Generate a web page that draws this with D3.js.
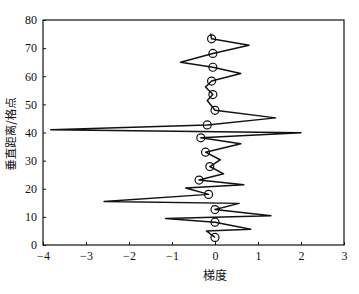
<!DOCTYPE html>
<html>
<head>
<meta charset="utf-8">
<script src="https://cdn.jsdelivr.net/npm/d3@7"></script>
<style>
  html, body { margin: 0; padding: 0; background: #fff; }
  svg { display: block; }
  .tick text { font-family: "Liberation Serif", "DejaVu Serif", serif; font-size: 12px; fill: #111; }
</style>
</head>
<body>
<div id="chart"></div>
<script>
// profile: gradient (x) vs vertical distance (y), top to bottom
const gradX = [-0.1, -0.08, 0.79, -0.05, -0.8, -0.05, 0.6, -0.08, -0.22, -0.05, -0.18, 0.0, 1.41,
  -0.18, -3.82, 2.0, -0.33, 0.6, -0.22, 0.12, -0.12, 0.2, -0.37, 0.67, -0.68, -0.15, -2.58, 0.56,
  0.0, 1.3, -1.15, 0.0, 0.83, -0.2, 0.0];
const heightY = [75.2, 73.3, 71, 68.1, 65, 63.2, 61, 58.3, 56.2, 53.5, 51.4, 47.9, 45.2,
  42.7, 41, 39.9, 38.1, 36, 33, 30.3, 27.9, 25.3, 23.1, 21.4, 20.3, 18, 15.5, 14.8,
  12.6, 10.4, 9.4, 8.1, 5.6, 5, 2.7];

// marker points
const markX = [-0.08, -0.05, -0.05, -0.08, -0.05, 0.0, -0.18, -0.33, -0.22, -0.12, -0.37, -0.15, 0.0, 0.0, 0.0];
const markY = [73.3, 68.1, 63.2, 58.3, 53.5, 47.9, 42.7, 38.1, 33, 27.9, 23.1, 18, 12.6, 8.1, 2.7];

const xTicks = [-4, -3, -2, -1, 0, 1, 2, 3];
const yTicks = [0, 10, 20, 30, 40, 50, 60, 70, 80];

const width = 359, height = 294;
const margin = { top: 20, right: 15, bottom: 49, left: 43 };
const innerW = width - margin.left - margin.right;
const innerH = height - margin.top - margin.bottom;

const svg = d3.select("#chart").append("svg")
  .attr("width", width)
  .attr("height", height);

const g = svg.append("g")
  .attr("transform", `translate(${margin.left},${margin.top})`);

const x = d3.scaleLinear().domain([-4, 3]).range([0, innerW]);
const y = d3.scaleLinear().domain([0, 80]).range([innerH, 0]);

// frame
g.append("rect")
  .attr("width", innerW)
  .attr("height", innerH)
  .attr("fill", "none")
  .attr("stroke", "#111")
  .attr("stroke-width", 1.2);

const fmt = d => d < 0 ? "\u2212" + Math.abs(d) : String(d);

g.append("g")
  .attr("transform", `translate(0,${innerH})`)
  .call(d3.axisBottom(x).tickValues(xTicks).tickFormat(fmt).tickSizeInner(-3).tickSizeOuter(0).tickPadding(6))
  .call(a => a.select(".domain").remove())
  .call(a => a.selectAll(".tick line").attr("stroke", "#111"));

g.append("g")
  .call(d3.axisLeft(y).tickValues(yTicks).tickSizeInner(-3).tickSizeOuter(0).tickPadding(6))
  .call(a => a.select(".domain").remove())
  .call(a => a.selectAll(".tick line").attr("stroke", "#111"));

// profile line
const pts = gradX.map((v, i) => [v, heightY[i]]);
const line = d3.line()
  .x(d => x(d[0]))
  .y(d => y(d[1]));

g.append("path")
  .datum(pts)
  .attr("fill", "none")
  .attr("stroke", "#111")
  .attr("stroke-width", 1.5)
  .attr("stroke-linejoin", "round")
  .attr("d", line);

// circle markers
g.selectAll("circle.mark")
  .data(markX.map((v, i) => [v, markY[i]]))
  .join("circle")
  .attr("class", "mark")
  .attr("cx", d => x(d[0]))
  .attr("cy", d => y(d[1]))
  .attr("r", 4)
  .attr("fill", "none")
  .attr("stroke", "#111")
  .attr("stroke-width", 1.2);

// axis titles
svg.append("text")
  .attr("x", margin.left + x(0))
  .attr("y", 280)
  .attr("text-anchor", "middle")
  .attr("font-family", "'Noto Sans CJK SC', sans-serif")
  .attr("font-size", 12)
  .attr("fill", "#111")
  .text("梯度");

svg.append("text")
  .attr("transform", "translate(15,134) rotate(-90)")
  .attr("text-anchor", "middle")
  .attr("font-family", "'Noto Sans CJK SC', sans-serif")
  .attr("font-size", 11.5)
  .attr("fill", "#111")
  .text("垂直距离/格点");
</script>
</body>
</html>
